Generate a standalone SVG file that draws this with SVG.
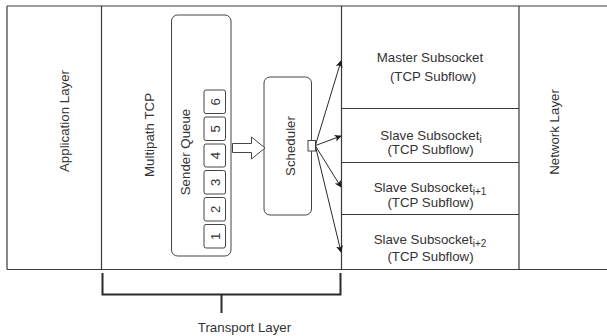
<svg xmlns="http://www.w3.org/2000/svg" width="607" height="336" viewBox="0 0 607 336">
  <style>
    .ln { fill: none; stroke: #3a3a3a; stroke-width: 1.2; }
    .box { fill: #ffffff; stroke: #444444; stroke-width: 1; }
    .txt { font-family: "Liberation Sans", Arial, sans-serif; font-size: 13.3px; fill: #333333; text-anchor: middle; }
    .sub { font-size: 10px; }
    .conn { fill: none; stroke: #2a2a2a; stroke-width: 1; marker-end: url(#arr); }
  </style>
  <defs>
    <marker id="arr" viewBox="0 0 10 10" refX="9" refY="5" markerWidth="7" markerHeight="7" markerUnits="userSpaceOnUse" orient="auto">
      <path d="M0,0 L10,5 L0,10 L2.5,5 Z" fill="#1a1a1a"/>
    </marker>
  </defs>
  <rect width="607" height="336" fill="#ffffff"/>

  <!-- layer frame -->
  <g id="frame">
    <path class="ln" d="M7,6 H608 M7,269.5 H608 M7,6 V269.5 M101.5,6 V269.5 M341.5,6 V269.5 M519,6 V269.5"/>
    <path class="ln" d="M341.5,108.5 H519 M341.5,162.5 H519 M341.5,214.5 H519"/>
  </g>

  <g id="application-layer">
    <text class="txt" transform="translate(69,121) rotate(-90)">Application Layer</text>
  </g>

  <g id="multipath-tcp">
    <text class="txt" transform="translate(153.5,135) rotate(-90)">Multipath TCP</text>
  </g>

  <g id="sender-queue">
    <rect class="box" x="171.5" y="15" width="59.5" height="241" rx="6"/>
    <text class="txt" transform="translate(190,152) rotate(-90)">Sender Queue</text>
    <g id="q6"><rect class="box" x="204" y="90" width="21.5" height="23.5" rx="2"/><text class="txt" transform="translate(219.5,101.7) rotate(-90)">6</text></g>
    <g id="q5"><rect class="box" x="204" y="117" width="21.5" height="23.5" rx="2"/><text class="txt" transform="translate(219.5,128.7) rotate(-90)">5</text></g>
    <g id="q4"><rect class="box" x="204" y="144" width="21.5" height="23" rx="2"/><text class="txt" transform="translate(219.5,155.5) rotate(-90)">4</text></g>
    <g id="q3"><rect class="box" x="204" y="170.5" width="21.5" height="23.5" rx="2"/><text class="txt" transform="translate(219.5,182.2) rotate(-90)">3</text></g>
    <g id="q2"><rect class="box" x="204" y="197.5" width="21.5" height="23.5" rx="2"/><text class="txt" transform="translate(219.5,209.2) rotate(-90)">2</text></g>
    <g id="q1"><rect class="box" x="204" y="224.5" width="21.5" height="23.5" rx="2"/><text class="txt" transform="translate(219.5,236.2) rotate(-90)">1</text></g>
  </g>

  <g id="scheduler">
    <rect class="box" x="264" y="77" width="47.5" height="138" rx="6"/>
    <text class="txt" transform="translate(295,146) rotate(-90)">Scheduler</text>
    <rect class="box" x="308" y="140.5" width="7.5" height="10.5"/>
  </g>

  <g id="master-subsocket">
    <text class="txt" x="430" y="62">Master Subsocket</text>
    <text class="txt" x="433" y="81">(TCP Subflow)</text>
  </g>
  <g id="slave-subsocket-i">
    <text class="txt" x="431" y="139.5">Slave Subsocket<tspan class="sub" dy="3">i</tspan></text>
    <text class="txt" x="430.5" y="154">(TCP Subflow)</text>
  </g>
  <g id="slave-subsocket-i1">
    <text class="txt" x="430" y="192">Slave Subsocket<tspan class="sub" dy="3">i+1</tspan></text>
    <text class="txt" x="430.5" y="207">(TCP Subflow)</text>
  </g>
  <g id="slave-subsocket-i2">
    <text class="txt" x="430" y="244">Slave Subsocket<tspan class="sub" dy="3">i+2</tspan></text>
    <text class="txt" x="430.5" y="261">(TCP Subflow)</text>
  </g>

  <g id="network-layer">
    <text class="txt" transform="translate(559,132) rotate(-90)">Network Layer</text>
  </g>

  <g id="connectors">
    <!-- queue to scheduler block arrow -->
    <path d="M232.5,143.5 H251.5 V137 L265,148 L251.5,159 V152.5 H232.5 Z" fill="#ffffff" stroke="#444444" stroke-width="1"/>
    <line class="conn" x1="315.5" y1="145" x2="341" y2="61"/>
    <line class="conn" x1="315.5" y1="145.5" x2="341" y2="136"/>
    <line class="conn" x1="315.5" y1="146" x2="341" y2="187"/>
    <line class="conn" x1="315.5" y1="146.5" x2="341" y2="252"/>
  </g>

  <g id="transport-layer">
    <path d="M102.5,273 V294.5 H340.5 V273 M221.5,294.5 V313" fill="none" stroke="#2a2a2a" stroke-width="2"/>
    <text class="txt" x="244.5" y="332">Transport Layer</text>
  </g>
</svg>
